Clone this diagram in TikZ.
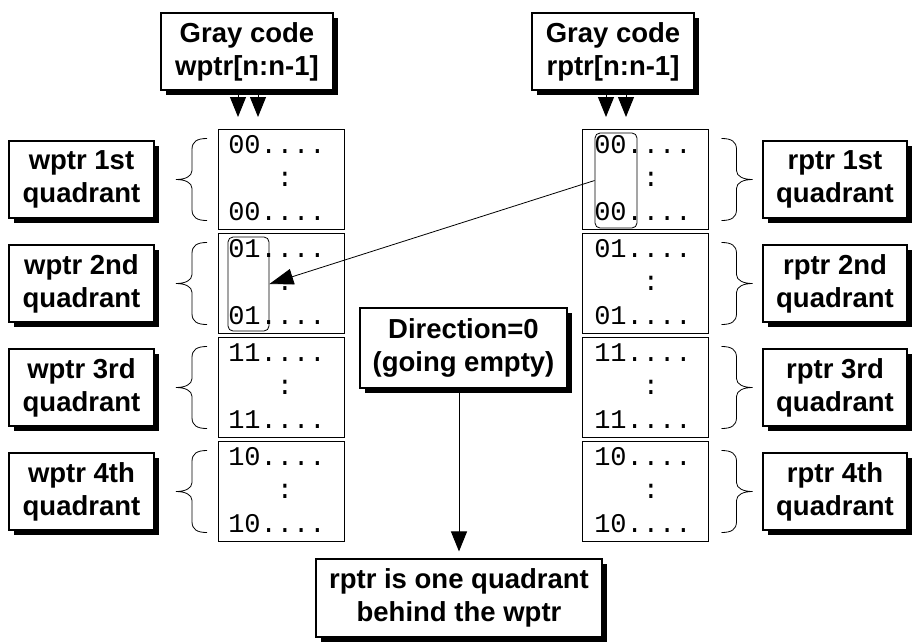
\documentclass[tikz,border=0pt]{standalone}
\usepackage{fontspec}
\setmainfont{Liberation Sans}
\setmonofont{Liberation Mono}
\usetikzlibrary{shadows,arrows.meta,calc}
\tikzset{
  lbrace/.pic={\draw[line width=0.8pt] (15,-41) .. controls (5,-41) and (0,-38) .. (0,-30) -- (0,-9) .. controls (0,-3) and (-7,0) .. (-16,0) .. controls (-7,0) and (0,3) .. (0,9) -- (0,30) .. controls (0,38) and (5,41) .. (15,41);},
  rbrace/.pic={\draw[line width=0.8pt] (-15,-41) .. controls (-5,-41) and (0,-38) .. (0,-30) -- (0,-9) .. controls (0,-3) and (7,0) .. (16,0) .. controls (7,0) and (0,3) .. (0,9) -- (0,30) .. controls (0,38) and (-5,41) .. (-15,41);}
}
\begin{document}
\begin{tikzpicture}[x=1pt,y=-1pt,
  lbl/.style={draw, fill=white, line width=1.1pt, font=\fontsize{27.5}{33}\selectfont\bfseries, align=center, inner sep=0pt,
    drop shadow={shadow xshift=4.5pt, shadow yshift=-4.5pt, fill=black, opacity=1}},
  mem/.style={draw, line width=0.9pt, minimum width=126pt, minimum height=100pt, inner sep=0pt},
  mtxt/.style={font=\fontsize{27}{27}\selectfont\ttfamily, inner sep=0pt, anchor=base west},
  hl/.style={draw, rounded corners=5pt, line width=0.8pt, inner sep=0pt},
  arr/.style={line width=1pt, -{Triangle[length=20pt,width=16pt]}},
  arrthin/.style={line width=0.8pt, -{Triangle[length=24pt,width=16pt]}}
  ]
\useasboundingbox (0,0) rectangle (918,643);

% memory columns
\foreach \i/\y/\c in {1/179.5/00,2/283.5/01,3/387.5/11,4/491.5/10}{
  \node[mem] (L\i) at (281,\y) {};
  \node[mem] (R\i) at (645.5,\y) {};
  \node[mtxt] at ($(L\i.north west)+(10.5,24)$) {\c....};
  \node[mtxt] at ($(L\i.north west)+(10.5,57.5)$) {\phantom{000}:};
  \node[mtxt] at ($(L\i.north west)+(10.5,91)$) {\c....};
  \node[mtxt] at ($(R\i.north west)+(12,24)$) {\c....};
  \node[mtxt] at ($(R\i.north west)+(12,57.5)$) {\phantom{000}:};
  \node[mtxt] at ($(R\i.north west)+(12,91)$) {\c....};
  \pic at (192,\y) {lbrace};
  \pic at (736.5,\y) {rbrace};
}

% highlights
\node[hl, minimum width=41pt, minimum height=94pt] (hL) at (248.5,284) {};
\node[hl, minimum width=42pt, minimum height=95pt] (hR) at (616,180.5) {};
\draw[arrthin] (hR.west) -- (hL.east);

% label boxes
\node[lbl, minimum width=145pt, minimum height=77pt] (wq1) at (81.5,179.5) {wptr 1st\\quadrant};
\node[lbl, minimum width=145pt, minimum height=77pt] (wq2) at (81.5,283.5) {wptr 2nd\\quadrant};
\node[lbl, minimum width=145pt, minimum height=77pt] (wq3) at (81.5,387.5) {wptr 3rd\\quadrant};
\node[lbl, minimum width=145pt, minimum height=77pt] (wq4) at (81.5,491.5) {wptr 4th\\quadrant};
\node[lbl, minimum width=144pt, minimum height=77pt] (rq1) at (835,179.5) {rptr 1st\\quadrant};
\node[lbl, minimum width=144pt, minimum height=77pt] (rq2) at (835,283.5) {rptr 2nd\\quadrant};
\node[lbl, minimum width=144pt, minimum height=77pt] (rq3) at (835,387.5) {rptr 3rd\\quadrant};
\node[lbl, minimum width=144pt, minimum height=77pt] (rq4) at (835,491.5) {rptr 4th\\quadrant};

% top boxes
\node[lbl, minimum width=172pt, minimum height=77pt] (gw) at (247,51.5) {Gray code\\wptr[n:n-1]};
\node[lbl, minimum width=162pt, minimum height=77pt] (gr) at (613,51.5) {Gray code\\rptr[n:n-1]};
\coordinate (wa1) at (238,117);
\coordinate (wa2) at (258,117);
\coordinate (ra1) at (606,117);
\coordinate (ra2) at (626,117);
\draw[arr] (wa1 |- gw.south) -- (wa1);
\draw[arr] (wa2 |- gw.south) -- (wa2);
\draw[arr] (ra1 |- gr.south) -- (ra1);
\draw[arr] (ra2 |- gr.south) -- (ra2);

% direction and result
\node[lbl, minimum width=207pt, minimum height=80pt,
  drop shadow={shadow xshift=5pt, shadow yshift=-5pt, fill=black, opacity=1}] (dir) at (463.5,348) {Direction=0\\(going empty)};
\node[lbl, minimum width=286pt, minimum height=78pt] (res) at (459,598) {rptr is one quadrant\\behind the wptr};
\draw[arr, shorten >=7pt] (res.north |- dir.south) -- (res.north);
\end{tikzpicture}
\end{document}
